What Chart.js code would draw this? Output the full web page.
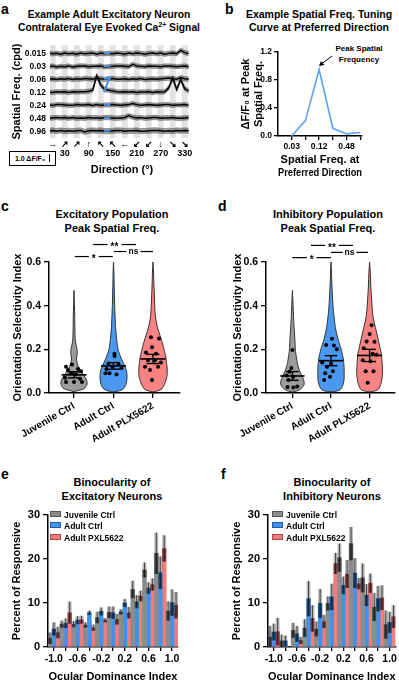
<!DOCTYPE html>
<html>
<head>
<meta charset="utf-8">
<title>Spatial frequency tuning figure</title>
<script src="https://cdn.jsdelivr.net/npm/chart.js@4.4.1/dist/chart.umd.min.js"></script>
<style>
  html, body { margin: 0; padding: 0; background: #fff; }
  body { position: relative; width: 399px; height: 685px; overflow: hidden;
         font-family: 'Liberation Sans', Arial, sans-serif; color: #000; }
  canvas { position: absolute; }
  .letter { position: absolute; font-weight: bold; font-size: 14px; line-height: 14px; }
  .title { position: absolute; font-weight: bold; font-size: 11px; line-height: 14px;
           text-align: center; white-space: nowrap; transform: translateX(-50%); }
  .sup { font-size: 7px; vertical-align: 4px; line-height: 0; }
  .legend { position: absolute; font-weight: bold; font-size: 8.5px; line-height: 11.3px; white-space: nowrap; }
  .legend .box { display: inline-block; width: 9px; height: 4px; margin-right: 3px; vertical-align: 1px; }
  .scalebox { position: absolute; left: 9px; top: 151px; width: 45px; height: 13px; border: 1px solid #000;
              font-weight: bold; font-size: 7px; line-height: 13px; text-align: center; white-space: nowrap; }
  .scalebox i { display: inline-block; width: 1px; height: 8px; background: #000; margin-left: 4px; vertical-align: -1px; }
  .note { position: absolute; font-weight: bold; font-size: 8px; line-height: 11px; text-align: center; white-space: nowrap; transform: translateX(-50%); }
</style>
</head>
<body>
<div class="letter" style="left:1px;top:2px">a</div>
<div class="letter" style="left:225px;top:2px">b</div>
<div class="letter" style="left:1px;top:199px">c</div>
<div class="letter" style="left:218px;top:199px">d</div>
<div class="letter" style="left:1px;top:467px">e</div>
<div class="letter" style="left:221px;top:467px">f</div>

<div class="title" style="left:109px;top:8px;font-size:10.3px;line-height:13px">Example Adult Excitatory Neuron<br>Contralateral Eye Evoked Ca<span class="sup">2+</span> Signal</div>
<div class="title" style="left:319px;top:8px;font-size:10.5px;line-height:13px">Example Spatial Freq. Tuning<br>Curve at Preferred Direction</div>
<div class="title" style="left:112px;top:207px">Excitatory Population<br>Peak Spatial Freq.</div>
<div class="title" style="left:328px;top:207px">Inhibitory Population<br>Peak Spatial Freq.</div>
<div class="title" style="left:112px;top:475px">Binocularity of<br>Excitatory Neurons</div>
<div class="title" style="left:332px;top:475px">Binocularity of<br>Inhibitory Neurons</div>

<div class="scalebox">1.0 ΔF/F₀<i></i></div>
<div class="note" style="left:359px;top:43px">Peak Spatial<br>Frequency</div>
<svg style="position:absolute;left:316px;top:52px" width="20" height="16">
  <line x1="16" y1="4" x2="6" y2="11.5" stroke="#000" stroke-width="1"/>
  <polygon points="3,14 5,9 8.5,13" fill="#000"/>
</svg>

<canvas id="chartA" width="200" height="146" style="left:0;top:36px"></canvas>
<canvas id="chartB" width="199" height="145" style="left:200px;top:36px"></canvas>
<canvas id="chartC" width="200" height="214" style="left:0;top:236px"></canvas>
<canvas id="chartD" width="181" height="214" style="left:218px;top:236px"></canvas>
<canvas id="chartE" width="200" height="180" style="left:0;top:505px"></canvas>
<canvas id="chartF" width="179" height="180" style="left:220px;top:505px"></canvas>
<div class="legend" id="legendE" style="left:50px;top:510px"></div>
<div class="legend" id="legendF" style="left:272px;top:510px"></div>

<script>
// ---------------- data ----------------

// panel a: example neuron traces (dF/F0), 3 samples per direction (d-10, d, d+10 deg)
const SF_ROWS = ['0.015', '0.03', '0.06', '0.12', '0.24', '0.48', '0.96'];
const DIRECTIONS = [0, 30, 60, 90, 120, 150, 180, 210, 240, 270, 300, 330];
const DIR_ARROWS = ['→', '↗', '↗', '↑', '↖', '↖', '←', '↙', '↙', '↓', '↘', '↘'];
const TRACE_OFFSETS = [-10, 0, 10];
const TRACE_SF_0015 = [0.1,0,0.05, -0.05,0.1,0, 0.05,-0.05,0.1, 0,0.05,0.1, -0.05,0.1,0, 0.05,0,0.1,
                       0.05,-0.05,0.1, 0,0.1,0.05, -0.05,0.05,0.1, 0,0.1,-0.05, 0.05,0.1,0, 0.45,0.15,0.05];
const TRACE_SF_003 = [0,0.1,-0.05, 0.05,0,0.1, -0.05,0.05,0.1, 0.1,0,0.05, 0.05,0.1,-0.05, 0,0.05,0.1,
                      0.1,0.05,0, 0.3,0.1,0.05, 0,0.1,0.05, 0.05,0,0.1, 0.1,0.05,0, 0.05,0.1,0];
const TRACE_SF_006 = [0.05,0.1,0, 0.1,0.05,0.15, 0,0.1,0.05, 0.15,0.1,0.05, 0.2,0.1,0.05, 0.1,0.15,0.05,
                      0.05,0.1,0, 0.1,0.05,0.15, 0,0.05,0.1, 0.05,0.1,0.15, 0.2,0.1,0.05, 0.25,0.1,0.05];
const TRACE_SF_012 = [0.05,0,0.1, 0.05,0.1,0, 0.1,0.05,0.1, 0.1,0.15,0.3, 2.2,1.0,0.4, 0.3,0.2,0.1,
                      0.05,0.1,0.05, 0.1,0,0.05, 0.05,0.1,0, 0.1,0.05,0.1, 0.6,1.9,0.4, 1.7,0.5,0.2];
const TRACE_SF_024 = [0.05,0,0.1, 0.1,0.05,0, 0,0.1,0.05, 0.05,0.1,0, 0.1,0,0.05, 0.05,0.1,0.05,
                      0,0.05,0.1, 0.25,0.1,0, 0.05,0.1,0.05, 0,0.05,0.1, 0.1,0,0.05, 0.05,0.1,0];
const TRACE_SF_048 = [0,0.05,0.1, 0.05,0.1,0, 0.1,0,0.05, 0,0.1,0.05, 0.05,0,0.1, 0.1,0.05,0,
                      0.05,0.1,0.35, 0.15,0.05,0.1, 0,0.05,0.1, 0.1,0,0.05, 0.05,0.1,0, 0,0.05,0.1];
const TRACE_SF_096 = [0.05,0.1,0, 0.1,0,0.05, 0,0.05,0.1, -0.1,0.05,0.1, 0.05,0.1,0, 0,0.05,0.1,
                      0.1,0,0.05, 0.05,0.1,0, 0,0.05,0.1, 0.1,0.05,0, 0.05,0,0.1, 0.05,0.1,0.05];
const TRACE_SPREAD = [0.3, 0.28, 0.3, 0.3, 0.28, 0.3, 0.35];
const PREF_X = [128, 136, 144];
const PREF_RESP = [[0.1,0.1,0.1], [0.05,0.1,0.1], [0.1,0.15,0.2], [0,1.1,2.1],
                   [0.05,0.1,0.05], [0,0.05,0.1], [0.05,0.1,0.05]];

// panel b: tuning curve at preferred direction
const SF_VALUES = [0.03, 0.06, 0.12, 0.24, 0.48, 0.96];
const SF_LABELED = ['0.03', '0.12', '0.48'];
const TUNING_DFF = [0.0, 0.22, 0.95, 0.11, 0.03, 0.05];

// panels c, d: OSI at peak spatial frequency
const GROUPS = ['Juvenile Ctrl', 'Adult Ctrl', 'Adult PLX5622'];
const VIOLIN_LEVELS = [0.005,0.01,0.02,0.04,0.06,0.08,0.1,0.12,0.14,0.16,0.18,0.2,0.22,0.25,0.3,0.35,0.4,0.47,0.5,0.55,0.6];
const EXC_DENS_JUV   = [0,0.2,0.69,0.9,0.86,0.69,0.48,0.31,0.21,0.17,0.22,0.21,0.14,0.08,0.06,0.05,0.03,0,null,null,null];
const EXC_DENS_ADULT = [0,0.41,0.69,0.86,0.92,0.93,0.9,0.79,0.66,0.52,0.41,0.31,0.26,0.21,0.14,0.11,0.08,0.055,0.04,0.03,0];
const EXC_DENS_PLX   = [0,0.34,0.62,0.79,0.9,0.97,0.98,0.97,0.93,0.9,0.83,0.76,0.68,0.55,0.31,0.17,0.12,0.08,0.06,0.04,0];
const INH_DENS_JUV   = [0,0.34,0.62,0.83,0.79,0.66,0.52,0.41,0.34,0.29,0.24,0.21,0.19,0.17,0.12,0.08,0.05,0,null,null,null];
const INH_DENS_ADULT = [0,0.48,0.72,0.86,0.92,0.93,0.93,0.92,0.9,0.86,0.79,0.72,0.62,0.48,0.31,0.21,0.14,0.08,0.06,0.035,0];
const INH_DENS_PLX   = [0,0.41,0.66,0.79,0.86,0.9,0.91,0.9,0.88,0.86,0.83,0.76,0.69,0.59,0.41,0.24,0.17,0.1,0.08,0.05,0];
const EXC_ANIMALS_JUV   = [0.13,0.12,0.11,0.105,0.1,0.09,0.085,0.07,0.065,0.05,0.05,0.05];
const EXC_ANIMALS_ADULT = [0.18,0.17,0.135,0.13,0.12,0.115,0.11,0.09,0.085,0.09];
const EXC_ANIMALS_PLX   = [0.255,0.25,0.21,0.185,0.18,0.15,0.15,0.14,0.12,0.12,0.105,0.06];
const INH_ANIMALS_JUV   = [0.197,0.115,0.097,0.08,0.074,0.06,0.03,0.028,0.025];
const INH_ANIMALS_ADULT = [0.248,0.22,0.218,0.2,0.14,0.135,0.12,0.1,0.09,0.075,0.06];
const INH_ANIMALS_PLX   = [0.31,0.27,0.236,0.235,0.205,0.18,0.175,0.15,0.145,0.1,0.1,0.047];
const EXC_MEAN = [0.083, 0.124, 0.156];
const EXC_SEM  = [0.014, 0.015, 0.021];
const INH_MEAN = [0.078, 0.148, 0.172];
const INH_SEM  = [0.02, 0.023, 0.028];

// panels e, f: ocular dominance distributions (% of responsive cells)
const ODI_BINS = ['-1.0','-0.8','-0.6','-0.4','-0.2','0.0','0.2','0.4','0.6','0.8','1.0'];
const OD_SERIES = ['Juvenile Ctrl', 'Adult Ctrl', 'Adult PXL5622'];
const EXC_OD_JUV       = [2.0,5.2,5.2,5.0,6.7,7.9,8.0,13.1,17.5,21.3,8.2];
const EXC_OD_JUV_SEM   = [1.3,0.8,0.7,0.6,1.3,1.3,0.6,2.0,1.7,4.7,2.2];
const EXC_OD_ADULT     = [4.1,5.4,6.1,7.8,8.1,7.8,10.0,10.3,13.4,16.9,10.1];
const EXC_OD_ADULT_SEM = [1.5,1.1,0.9,0.5,0.9,1.4,0.9,1.5,1.3,3.7,3.0];
const EXC_OD_PLX       = [3.3,7.8,6.2,4.4,6.1,6.3,7.8,11.6,14.2,22.4,9.5];
const EXC_OD_PLX_SEM   = [1.3,2.5,0.9,0.7,0.5,1.2,1.3,1.2,1.4,3.0,3.0];
const INH_OD_JUV       = [2.3,1.4,3.8,4.3,4.1,9.9,20.3,23.5,15.7,9.1,5.1];
const INH_OD_JUV_SEM   = [2.5,1.4,1.7,2.0,1.7,1.6,3.2,3.8,3.3,3.2,3.2];
const INH_OD_ADULT     = [3.4,1.4,3.0,11.0,9.9,11.4,14.0,16.8,11.8,11.0,5.6];
const INH_OD_ADULT_SEM = [1.9,1.2,1.8,4.0,3.3,3.0,2.0,3.4,2.5,2.9,2.4];
const INH_OD_PLX       = [3.5,0,1.5,6.5,5.8,19.0,16.6,14.4,14.5,11.2,6.9];
const INH_OD_PLX_SEM   = [3.1,0,0.8,3.0,1.5,2.4,3.2,1.3,2.2,2.8,2.6];

// ---------------- layout / style ----------------
const FONT = "'Liberation Sans', Arial, sans-serif";
const GRAY = '#8c8c8c', BLUE = '#4292ea', RED = '#f47c7c';
const VIOLIN_COLORS = ['#9c9c9c', '#4a98f0', '#f98383'];
const ROW_GAP = 1.7;                  // dF/F0 units between trace rows
const CAT_PX = 39.5;                  // px between violin groups
const VIOLIN_HALF = 14.5 / CAT_PX;    // widest half-violin, in group units
const JITTER_PX = {
  excJuv: [-2,-8,4,-6,7,-3,2,-9,6,-8,0,8],
  excAdult: [1,1,-5,5,-1,8,-7,-4,3,-8],
  excPlx: [-2,6,-1,-7,3,-5,2,8,-8,5,-3,-1],
  inhJuv: [0,-1,-3,-6,1,-4,5,-5,1],
  inhAdult: [1,-5,3,6,-9,0,-4,2,-6,-1,-7],
  inhPlx: [2,0,-3,5,-6,3,7,-7,1,-4,4,-2]
};
const SIG_EXC = [{text:'*', from:0.02, to:0.98, y:0.625, gap:5, dy:2.5},
                 {text:'**', from:0.48, to:1.57, y:0.68, gap:7, dy:2.5},
                 {text:'ns', from:1.01, to:2.0, y:0.648, gap:7, dy:0}];
const SIG_INH = [{text:'*', from:0.0, to:1.0, y:0.62, gap:5, dy:2.5},
                 {text:'**', from:0.48, to:1.57, y:0.676, gap:7, dy:2.5},
                 {text:'ns', from:1.0, to:1.96, y:0.644, gap:7, dy:0}];

Chart.defaults.font.family = FONT;
Chart.defaults.font.weight = 'bold';
Chart.defaults.color = '#000';
Chart.defaults.animation = false;
Chart.defaults.responsive = false;
Chart.defaults.plugins.legend.display = false;
Chart.defaults.plugins.tooltip.enabled = false;
Chart.defaults.elements.point.radius = 0;

function blackAxis(tickLen) {
  return {
    grid: { display: true, drawOnChartArea: false, drawTicks: true, tickLength: tickLen, color: '#000', lineWidth: 1.3 },
    border: { display: true, color: '#000', width: 1.5 }
  };
}
const noAxis = { grid: { display: false, drawTicks: false }, border: { display: false } };

function seg(x1, y1, x2, y2, extra) {
  return Object.assign({ type: 'line', data: [{x: x1, y: y1}, {x: x2, y: y2}],
    borderColor: '#000', borderWidth: 1.4, pointRadius: 0, fill: false, order: 0 }, extra || {});
}

// ---------------- panel a ----------------
const stripePlugin = {
  id: 'stimStripes',
  beforeDatasetsDraw(chart) {
    const {ctx, chartArea: a, scales: {x}} = chart;
    ctx.save();
    ctx.fillStyle = '#e3e3e3';
    DIRECTIONS.forEach(d => {
      const x1 = Math.max(a.left, x.getPixelForValue(d - 7.5));
      const x2 = Math.min(a.right, x.getPixelForValue(d + 7.5));
      ctx.fillRect(x1, a.top, x2 - x1, a.bottom - a.top);
    });
    ctx.restore();
  }
};

const traceRows = [TRACE_SF_0015, TRACE_SF_003, TRACE_SF_006, TRACE_SF_012, TRACE_SF_024, TRACE_SF_048, TRACE_SF_096];
const traceDatasets = [];
traceRows.forEach((row, k) => {
  const base = -k * ROW_GAP;
  const pts = (shift) => row.map((v, i) => ({
    x: DIRECTIONS[Math.floor(i / 3)] + TRACE_OFFSETS[i % 3], y: base + v + shift }));
  traceDatasets.push({ data: pts(TRACE_SPREAD[k]), borderWidth: 0.6, borderColor: 'rgba(60,60,60,0.6)',
    fill: '+1', backgroundColor: 'rgba(45,45,45,0.45)', order: 3 });
  traceDatasets.push({ data: pts(-TRACE_SPREAD[k]), borderWidth: 0.6, borderColor: 'rgba(60,60,60,0.6)', fill: false, order: 3 });
  traceDatasets.push({ data: pts(0), borderColor: '#000', borderWidth: 1.5, fill: false, order: 1 });
  traceDatasets.push({ data: PREF_X.map((x, i) => ({x, y: base + PREF_RESP[k][i]})),
    borderColor: '#4a90e2', borderWidth: 2, fill: false, order: 0 });
});

new Chart(document.getElementById('chartA'), {
  type: 'line',
  data: { datasets: traceDatasets },
  options: {
    layout: { padding: { top: 6, right: 6, left: 0, bottom: 0 } },
    scales: {
      x: Object.assign({ type: 'linear', min: -6.75, max: 353.25,
        afterFit: s => { s.height = 44; },
        afterBuildTicks: s => { s.ticks = DIRECTIONS.map(v => ({value: v})); },
        ticks: { autoSkip: false, maxRotation: 0, padding: 2, font: { size: 9, lineHeight: 1.0 },
          callback: (v, i) => [DIR_ARROWS[i], i % 2 ? String(DIRECTIONS[i]) : ''] },
        title: { display: true, text: 'Direction (°)', font: { size: 11 }, padding: { top: 0, bottom: 5 } }
      }, noAxis),
      y: Object.assign({ type: 'linear', min: -11.1, max: 1.14,
        afterFit: s => { s.width = 50; },
        afterBuildTicks: s => { s.ticks = SF_ROWS.map((_, k) => ({value: -k * ROW_GAP})); },
        ticks: { padding: 4, font: { size: 8.5 }, callback: (v, i) => SF_ROWS[i] },
        title: { display: true, text: 'Spatial Freq. (cpd)', font: { size: 11 }, padding: { top: 10, bottom: 0 } }
      }, noAxis)
    }
  },
  plugins: [stripePlugin]
});

// ---------------- panel b ----------------
new Chart(document.getElementById('chartB'), {
  type: 'line',
  data: { datasets: [{ data: SF_VALUES.map((x, i) => ({x, y: TUNING_DFF[i]})),
    borderColor: '#5aa2f2', borderWidth: 1.6, fill: false, clip: false }] },
  options: {
    layout: { padding: { top: 16, right: 37, left: 0, bottom: 0 } },
    scales: {
      x: Object.assign({ type: 'logarithmic', min: 0.015, max: 1.05,
        afterFit: s => { s.height = 45; },
        afterBuildTicks: s => { s.ticks = SF_VALUES.map(v => ({value: v})); },
        ticks: { autoSkip: false, maxRotation: 0, padding: 2, font: { size: 8.5 },
          callback: v => { const t = String(v); return SF_LABELED.includes(t) ? t : ''; } },
        title: { display: true, text: ['Spatial Freq. at', 'Preferred Direction'], font: { size: 11 }, padding: { top: 0, bottom: 1 } }
      }, blackAxis(4)),
      y: Object.assign({ min: 0, max: 1.2,
        afterFit: s => { s.width = 78; },
        ticks: { stepSize: 0.4, padding: 2, font: { size: 8.5 }, callback: v => v.toFixed(1) },
        title: { display: true, text: ['ΔF/F₀ at Peak', 'Spatial Freq.'], font: { size: 11 }, padding: { top: 39, bottom: 0 } }
      }, blackAxis(4))
    }
  }
});

// ---------------- panels c, d ----------------
function violinPoints(g, dens) {
  const left = [], right = [];
  VIOLIN_LEVELS.forEach((y, i) => {
    if (dens[i] == null) return;
    left.push({x: g - dens[i] * VIOLIN_HALF, y});
    right.push({x: g + dens[i] * VIOLIN_HALF, y});
  });
  return left.concat(right.reverse());
}

function sigTextPlugin(items) {
  return {
    id: 'sigText',
    afterDatasetsDraw(chart) {
      const {ctx, scales: {x, y}} = chart;
      ctx.save();
      ctx.textAlign = 'center';
      ctx.textBaseline = 'middle';
      items.forEach(it => {
        ctx.font = (it.text === 'ns' ? 'bold 8.5px ' : 'bold 10px ') + FONT;
        ctx.fillText(it.text, x.getPixelForValue((it.from + it.to) / 2), y.getPixelForValue(it.y) + it.dy);
      });
      ctx.restore();
    }
  };
}

function violinChart(id, dens, dots, jitter, means, sems, sig, xmin, yWidth, padRight, titlePad) {
  const ds = [];
  dens.forEach((d, g) => ds.push({ data: violinPoints(g, d), fill: 'shape', tension: 0.3,
    backgroundColor: VIOLIN_COLORS[g], borderColor: '#333', borderWidth: 1, order: 4 }));
  dots.forEach((vals, g) => ds.push({ data: vals.map((v, i) => ({x: g + jitter[g][i] / CAT_PX, y: v})),
    showLine: false, pointRadius: 2, pointBackgroundColor: '#000', pointBorderWidth: 0, order: 2 }));
  means.forEach((m, g) => {
    const s = sems[g];
    ds.push(seg(g - 12.5 / CAT_PX, m, g + 12.5 / CAT_PX, m, { borderWidth: 1.6 }));
    ds.push(seg(g - 6.5 / CAT_PX, m + s, g + 6.5 / CAT_PX, m + s));
    ds.push(seg(g - 6.5 / CAT_PX, m - s, g + 6.5 / CAT_PX, m - s));
    ds.push(seg(g, m - s, g, m + s));
  });
  sig.forEach(it => {
    const mid = (it.from + it.to) / 2, gap = it.gap / CAT_PX;
    ds.push(seg(it.from, it.y, mid - gap, it.y, { clip: false, borderWidth: 1.2 }));
    ds.push(seg(mid + gap, it.y, it.to, it.y, { clip: false, borderWidth: 1.2 }));
  });
  new Chart(document.getElementById(id), {
    type: 'line',
    data: { datasets: ds },
    options: {
      layout: { padding: { top: 26, right: padRight, left: 0, bottom: 0 } },
      scales: {
        x: Object.assign({ type: 'linear', min: xmin, max: xmin + (id === 'chartC' ? 131 : 132) / CAT_PX,
          afterFit: s => { s.height = 57; },
          afterBuildTicks: s => { s.ticks = GROUPS.map((_, g) => ({value: g})); },
          ticks: { autoSkip: false, minRotation: 30, maxRotation: 30, padding: 2, font: { size: 10 },
            callback: (v, i) => GROUPS[i] }
        }, blackAxis(5)),
        y: Object.assign({ min: 0, max: 0.6,
          afterFit: s => { s.width = yWidth; },
          ticks: { stepSize: 0.2, padding: 3, font: { size: 10.5 }, callback: v => v.toFixed(1) },
          title: { display: true, text: 'Orientation Selectivity Index', font: { size: 11 }, padding: { top: titlePad, bottom: 0 } }
        }, blackAxis(5))
      }
    },
    plugins: [sigTextPlugin(sig)]
  });
}

violinChart('chartC', [EXC_DENS_JUV, EXC_DENS_ADULT, EXC_DENS_PLX],
  [EXC_ANIMALS_JUV, EXC_ANIMALS_ADULT, EXC_ANIMALS_PLX],
  [JITTER_PX.excJuv, JITTER_PX.excAdult, JITTER_PX.excPlx], EXC_MEAN, EXC_SEM, SIG_EXC, -0.633, 49, 20, 11.4);
violinChart('chartD', [INH_DENS_JUV, INH_DENS_ADULT, INH_DENS_PLX],
  [INH_ANIMALS_JUV, INH_ANIMALS_ADULT, INH_ANIMALS_PLX],
  [JITTER_PX.inhJuv, JITTER_PX.inhAdult, JITTER_PX.inhPlx], INH_MEAN, INH_SEM, SIG_INH, -0.684, 48, 1, 13.4);

// ---------------- panels e, f ----------------
const semPlugin = {
  id: 'semBars',
  afterDatasetsDraw(chart) {
    const {ctx} = chart;
    const y = chart.scales.y;
    chart.data.datasets.forEach((ds, i) => {
      chart.getDatasetMeta(i).data.forEach((bar, j) => {
        const m = ds.data[j], s = ds.sem[j];
        if (!s) return;
        const yTop = y.getPixelForValue(m + s), yMid = y.getPixelForValue(m), yBot = y.getPixelForValue(Math.max(0, m - s));
        const x0 = bar.x - bar.width / 2;
        ctx.save();
        ctx.fillStyle = 'rgba(0,0,0,0.28)';
        ctx.fillRect(x0, yTop, bar.width, yMid - yTop);
        ctx.fillStyle = 'rgba(0,0,0,0.5)';
        ctx.fillRect(x0, yMid, bar.width, yBot - yMid);
        ctx.strokeStyle = 'rgba(0,0,0,0.8)';
        ctx.lineWidth = 0.8;
        ctx.beginPath(); ctx.moveTo(bar.x, yTop); ctx.lineTo(bar.x, yBot); ctx.stroke();
        ctx.restore();
      });
    });
  }
};

function odChart(id, legendId, series, sems, padRight) {
  const colors = [GRAY, BLUE, RED];
  new Chart(document.getElementById(id), {
    type: 'bar',
    data: { labels: ODI_BINS, datasets: series.map((d, k) => ({ label: OD_SERIES[k], data: d, sem: sems[k],
      backgroundColor: colors[k], categoryPercentage: 1, barPercentage: 1, borderWidth: 0 })) },
    options: {
      layout: { padding: { top: 10, right: padRight, left: 0, bottom: 0 } },
      scales: {
        x: Object.assign({ afterFit: s => { s.height = 38; },
          ticks: { autoSkip: false, maxRotation: 0, padding: 2, font: { size: 10.5 },
            callback: (v, i) => i % 2 === 0 ? ODI_BINS[i] : '' },
          title: { display: true, text: 'Ocular Dominance Index', font: { size: 11 }, padding: { top: 0, bottom: 1.4 } }
        }, blackAxis(4), { grid: { display: true, offset: false, drawOnChartArea: false, drawTicks: true, tickLength: 4, color: '#000', lineWidth: 1.3 } }),
        y: Object.assign({ min: 0, max: 30,
          afterFit: s => { s.width = 48; },
          ticks: { stepSize: 10, padding: 3, font: { size: 11 } },
          title: { display: true, text: 'Percent of Responsive', font: { size: 11 }, padding: { top: 10.4, bottom: 0 } }
        }, blackAxis(5))
      }
    },
    plugins: [semPlugin]
  });
  const borders = ['#555', '#1f5fa8', '#a84848'];
  document.getElementById(legendId).innerHTML = OD_SERIES.map((name, k) =>
    `<div><span class="box" style="background:${colors[k]};border:1px solid ${borders[k]}"></span>${name}</div>`).join('');
}

odChart('chartE', 'legendE', [EXC_OD_JUV, EXC_OD_ADULT, EXC_OD_PLX], [EXC_OD_JUV_SEM, EXC_OD_ADULT_SEM, EXC_OD_PLX_SEM], 22);
odChart('chartF', 'legendF', [INH_OD_JUV, INH_OD_ADULT, INH_OD_PLX], [INH_OD_JUV_SEM, INH_OD_ADULT_SEM, INH_OD_PLX_SEM], 1);
</script>
</body>
</html>
